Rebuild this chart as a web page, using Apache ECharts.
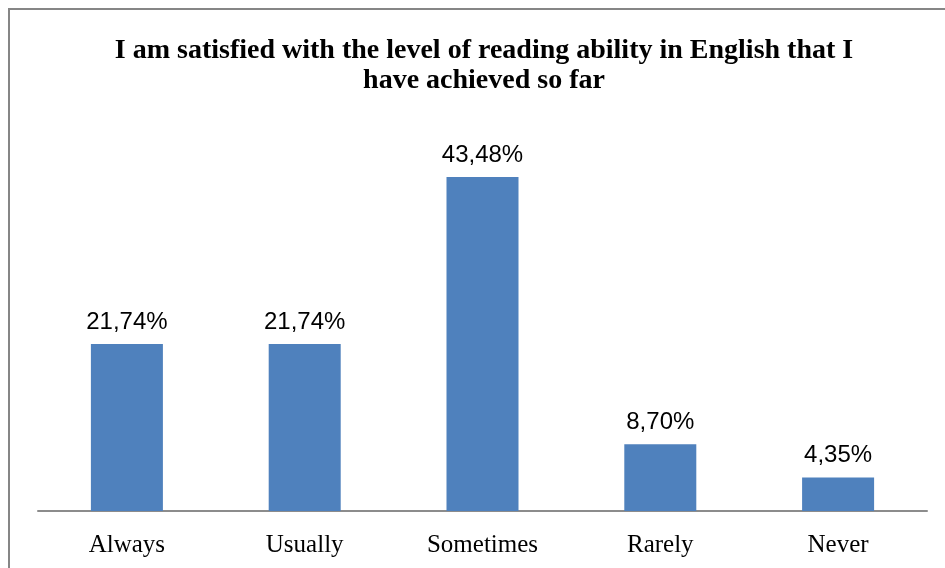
<!DOCTYPE html>
<html>
<head>
<meta charset="utf-8">
<script src="https://cdn.jsdelivr.net/npm/echarts@6/dist/echarts.min.js"></script>
<style>
  html, body { margin: 0; padding: 0; background: #fff; }
  #chart { width: 945px; height: 568px; }
</style>
</head>
<body>
<div id="chart"></div>
<script>
// Survey answers and their shares (%)
const categories = ['Always', 'Usually', 'Sometimes', 'Rarely', 'Never'];
const shares = [21.74, 21.74, 43.48, 8.70, 4.35];
const titleLines = ['I am satisfied with the level of reading ability in English that I', 'have achieved so far'];

const chart = echarts.init(document.getElementById('chart'), null, { renderer: 'canvas' });

chart.setOption({
  animation: false,
  backgroundColor: '#ffffff',
  title: {
    text: titleLines.join('\n'),
    left: 479,
    textAlign: 'center',
    top: 31,
    textStyle: {
      fontFamily: '"Liberation Serif", "Times New Roman", serif',
      fontWeight: 'bold',
      fontSize: 28,
      lineHeight: 30,
      color: '#000'
    }
  },
  graphic: [{
    type: 'rect',
    shape: { x: 9, y: 9, width: 960, height: 600 },
    style: { fill: 'none', stroke: '#868686', lineWidth: 2 },
    silent: true
  }],
  grid: { left: 38, right: 18, top: 127, bottom: 57, containLabel: false },
  xAxis: {
    type: 'category',
    data: categories,
    axisLine: { lineStyle: { color: '#8c8c8c', width: 2 } },
    axisTick: { show: false },
    axisLabel: {
      margin: 22,
      fontFamily: '"Liberation Serif", "Times New Roman", serif',
      fontSize: 25,
      color: '#000'
    }
  },
  yAxis: {
    type: 'value',
    min: 0,
    max: 50,
    show: false,
    splitLine: { show: false }
  },
  series: [{
    type: 'bar',
    data: shares,
    barWidth: '40.5%',
    itemStyle: { color: '#4F81BD' },
    label: {
      show: true,
      position: 'top',
      distance: 10,
      formatter: p => p.value.toFixed(2).replace('.', ',') + '%',
      fontFamily: '"Liberation Sans", Arial, sans-serif',
      fontSize: 24,
      color: '#000'
    }
  }]
});
</script>
</body>
</html>
